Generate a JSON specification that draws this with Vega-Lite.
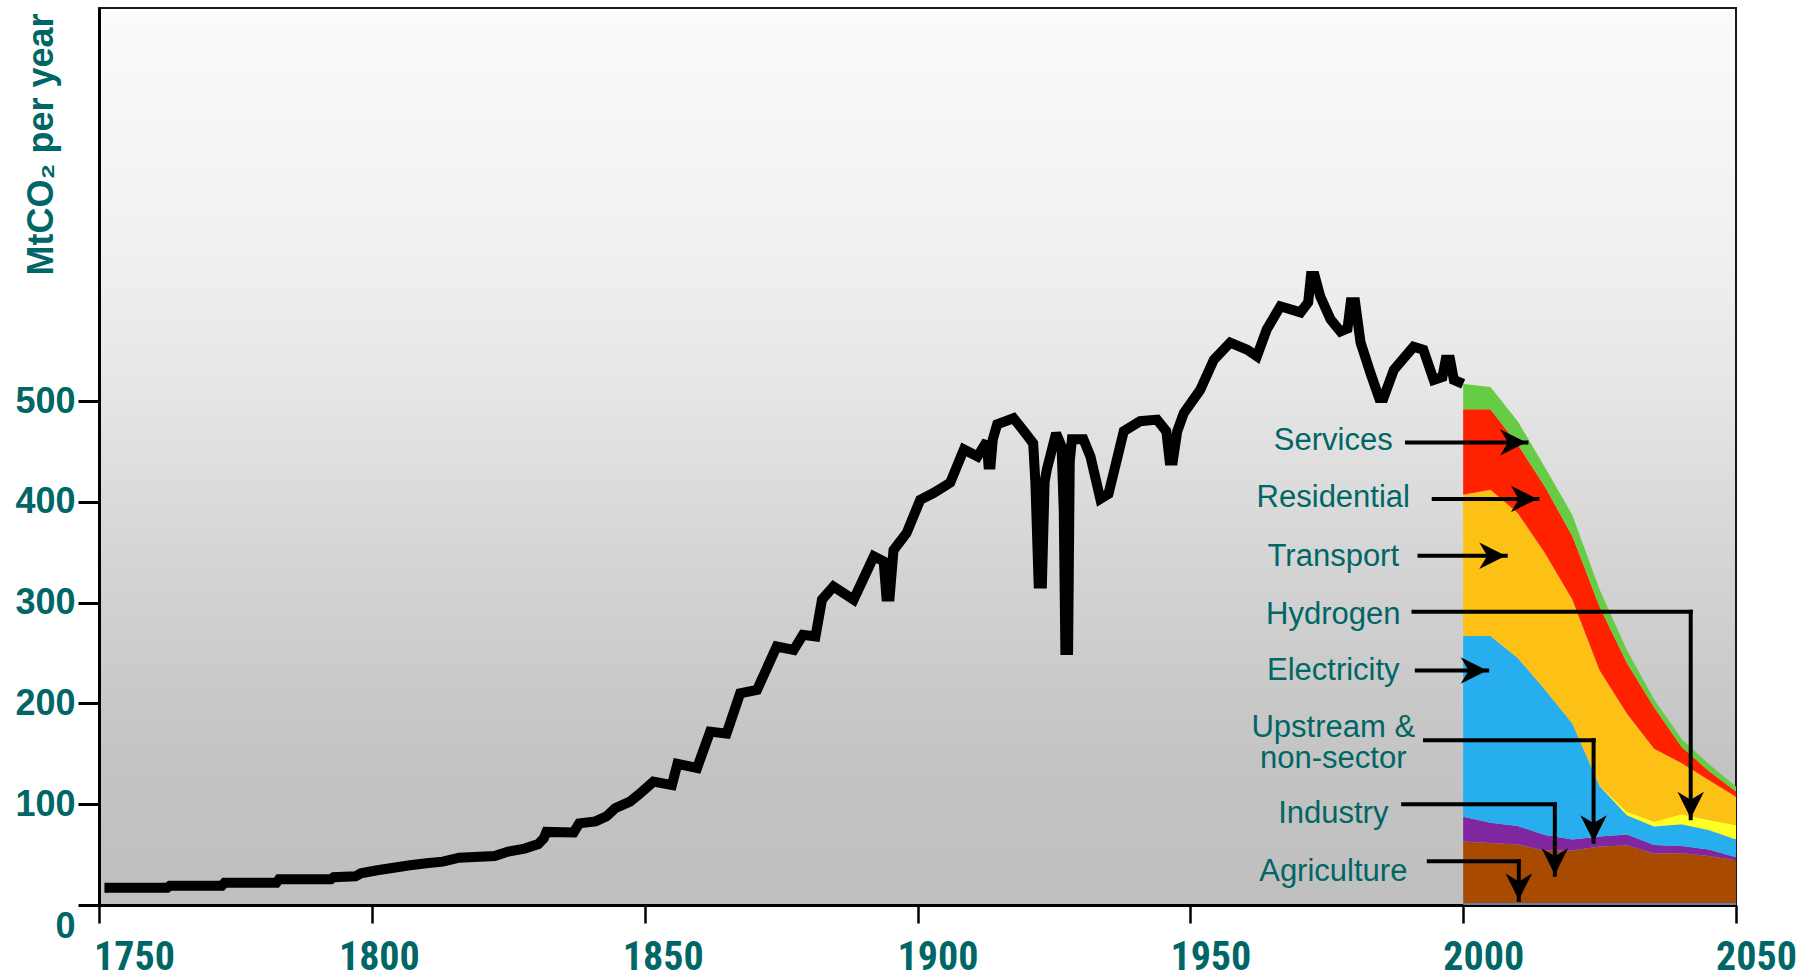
{
  "$schema": "https://vega.github.io/schema/vega-lite/v6.json",
  "width": 1637,
  "height": 897,
  "autosize": "none",
  "padding": {"left": 99, "top": 8, "right": 73, "bottom": 74},
  "background": "white",
  "view": {
    "stroke": "#1a1a1a",
    "strokeWidth": 2,
    "fill": {
      "gradient": "linear", "x1": 0, "y1": 0, "x2": 0, "y2": 1,
      "stops": [
        {"offset": 0, "color": "#fbfbfb"},
        {"offset": 0.27, "color": "#f0f0f0"},
        {"offset": 0.41, "color": "#e7e7e7"},
        {"offset": 0.6, "color": "#d6d6d6"},
        {"offset": 0.72, "color": "#cccccc"},
        {"offset": 0.85, "color": "#c3c3c3"},
        {"offset": 1, "color": "#bfbfbf"}
      ]
    }
  },
  "datasets": {
    "hist": [
      {"year": 1751, "value": 17}, {"year": 1762.5, "value": 17}, {"year": 1763, "value": 19}, {"year": 1772.5, "value": 19},
      {"year": 1773, "value": 22}, {"year": 1782.5, "value": 22}, {"year": 1783, "value": 25.5}, {"year": 1792.5, "value": 25.5},
      {"year": 1793, "value": 27.5}, {"year": 1797, "value": 28.5}, {"year": 1798, "value": 31.5}, {"year": 1801, "value": 34.5},
      {"year": 1804, "value": 37}, {"year": 1807, "value": 39.5}, {"year": 1810, "value": 41.5}, {"year": 1813, "value": 43},
      {"year": 1816, "value": 47}, {"year": 1822.5, "value": 48.5}, {"year": 1825, "value": 53}, {"year": 1828, "value": 56},
      {"year": 1830.5, "value": 60.5}, {"year": 1831.5, "value": 66}, {"year": 1832, "value": 72.5}, {"year": 1837, "value": 72},
      {"year": 1838, "value": 81}, {"year": 1841, "value": 83}, {"year": 1843, "value": 88}, {"year": 1844.6, "value": 96},
      {"year": 1847.3, "value": 102.6}, {"year": 1849, "value": 110}, {"year": 1851.6, "value": 122.4}, {"year": 1855, "value": 119},
      {"year": 1856, "value": 140}, {"year": 1859.6, "value": 136}, {"year": 1862, "value": 172}, {"year": 1865, "value": 170},
      {"year": 1867.5, "value": 210}, {"year": 1870.6, "value": 213.5}, {"year": 1874.2, "value": 256.5}, {"year": 1877.3, "value": 253},
      {"year": 1879, "value": 268}, {"year": 1881.3, "value": 266.4}, {"year": 1882.5, "value": 303}, {"year": 1884.6, "value": 316},
      {"year": 1888.3, "value": 303}, {"year": 1892, "value": 346}, {"year": 1893.8, "value": 341}, {"year": 1894.3, "value": 306},
      {"year": 1894.9, "value": 306}, {"year": 1895.6, "value": 352}, {"year": 1898, "value": 369}, {"year": 1900.5, "value": 402},
      {"year": 1903, "value": 409}, {"year": 1906, "value": 419}, {"year": 1908.5, "value": 452}, {"year": 1911, "value": 445},
      {"year": 1912.7, "value": 460}, {"year": 1913.0, "value": 437}, {"year": 1913.4, "value": 437}, {"year": 1913.8, "value": 462},
      {"year": 1914.6, "value": 477}, {"year": 1917.6, "value": 483}, {"year": 1919.8, "value": 468}, {"year": 1921.2, "value": 458},
      {"year": 1921.6, "value": 420}, {"year": 1922.2, "value": 319}, {"year": 1922.8, "value": 319}, {"year": 1923.3, "value": 420},
      {"year": 1923.7, "value": 432}, {"year": 1925.4, "value": 468}, {"year": 1926.4, "value": 455}, {"year": 1926.8, "value": 392},
      {"year": 1927.1, "value": 253}, {"year": 1927.6, "value": 253}, {"year": 1927.9, "value": 440}, {"year": 1928.3, "value": 462},
      {"year": 1930.4, "value": 462}, {"year": 1931.7, "value": 445}, {"year": 1933.5, "value": 403}, {"year": 1935, "value": 408},
      {"year": 1936, "value": 430}, {"year": 1937.8, "value": 470}, {"year": 1940.8, "value": 480}, {"year": 1943.9, "value": 481.6},
      {"year": 1945.6, "value": 470}, {"year": 1946.2, "value": 441}, {"year": 1946.8, "value": 441}, {"year": 1947.6, "value": 470},
      {"year": 1948.8, "value": 488}, {"year": 1951.8, "value": 511}, {"year": 1954.3, "value": 541}, {"year": 1957.3, "value": 558},
      {"year": 1960.4, "value": 551}, {"year": 1962.2, "value": 544.5}, {"year": 1964, "value": 571}, {"year": 1966.5, "value": 594},
      {"year": 1970.2, "value": 588}, {"year": 1971.6, "value": 598}, {"year": 1972.1, "value": 624}, {"year": 1972.8, "value": 624},
      {"year": 1973.8, "value": 604}, {"year": 1975.7, "value": 581}, {"year": 1977.5, "value": 569}, {"year": 1978.8, "value": 572},
      {"year": 1979.4, "value": 598}, {"year": 1980.2, "value": 598}, {"year": 1981.2, "value": 558}, {"year": 1983, "value": 528},
      {"year": 1984.6, "value": 503}, {"year": 1985.4, "value": 503}, {"year": 1987.3, "value": 531}, {"year": 1990.9, "value": 554},
      {"year": 1992.7, "value": 551}, {"year": 1994.6, "value": 521}, {"year": 1996.2, "value": 524}, {"year": 1996.8, "value": 541},
      {"year": 1997.6, "value": 541}, {"year": 1998.3, "value": 521}, {"year": 2000, "value": 517}
    ],
    "stack": [
      {"year": 2000, "series": "Agriculture", "k": 1, "value": 2},
      {"year": 2000, "series": "Industry", "k": 2, "value": 61},
      {"year": 2000, "series": "Upstream & non-sector", "k": 3, "value": 24.5},
      {"year": 2000, "series": "Electricity", "k": 4, "value": 179.5},
      {"year": 2000, "series": "Hydrogen", "k": 5, "value": 0},
      {"year": 2000, "series": "Transport", "k": 6, "value": 140},
      {"year": 2000, "series": "Residential", "k": 7, "value": 85},
      {"year": 2000, "series": "Services", "k": 8, "value": 25},
      {"year": 2005, "series": "Agriculture", "k": 1, "value": 2},
      {"year": 2005, "series": "Industry", "k": 2, "value": 59.5},
      {"year": 2005, "series": "Upstream & non-sector", "k": 3, "value": 20},
      {"year": 2005, "series": "Electricity", "k": 4, "value": 185.5},
      {"year": 2005, "series": "Hydrogen", "k": 5, "value": 0},
      {"year": 2005, "series": "Transport", "k": 6, "value": 145},
      {"year": 2005, "series": "Residential", "k": 7, "value": 80},
      {"year": 2005, "series": "Services", "k": 8, "value": 22},
      {"year": 2010, "series": "Agriculture", "k": 1, "value": 2},
      {"year": 2010, "series": "Industry", "k": 2, "value": 58},
      {"year": 2010, "series": "Upstream & non-sector", "k": 3, "value": 18.5},
      {"year": 2010, "series": "Electricity", "k": 4, "value": 166.5},
      {"year": 2010, "series": "Hydrogen", "k": 5, "value": 0},
      {"year": 2010, "series": "Transport", "k": 6, "value": 144},
      {"year": 2010, "series": "Residential", "k": 7, "value": 68},
      {"year": 2010, "series": "Services", "k": 8, "value": 23},
      {"year": 2015, "series": "Agriculture", "k": 1, "value": 2},
      {"year": 2015, "series": "Industry", "k": 2, "value": 52},
      {"year": 2015, "series": "Upstream & non-sector", "k": 3, "value": 15.5},
      {"year": 2015, "series": "Electricity", "k": 4, "value": 144},
      {"year": 2015, "series": "Hydrogen", "k": 5, "value": 0},
      {"year": 2015, "series": "Transport", "k": 6, "value": 135.5},
      {"year": 2015, "series": "Residential", "k": 7, "value": 66},
      {"year": 2015, "series": "Services", "k": 8, "value": 19},
      {"year": 2020, "series": "Agriculture", "k": 1, "value": 2},
      {"year": 2020, "series": "Industry", "k": 2, "value": 52},
      {"year": 2020, "series": "Upstream & non-sector", "k": 3, "value": 11},
      {"year": 2020, "series": "Electricity", "k": 4, "value": 115},
      {"year": 2020, "series": "Hydrogen", "k": 5, "value": 0},
      {"year": 2020, "series": "Transport", "k": 6, "value": 123},
      {"year": 2020, "series": "Residential", "k": 7, "value": 63},
      {"year": 2020, "series": "Services", "k": 8, "value": 21},
      {"year": 2025, "series": "Agriculture", "k": 1, "value": 2},
      {"year": 2025, "series": "Industry", "k": 2, "value": 56},
      {"year": 2025, "series": "Upstream & non-sector", "k": 3, "value": 10},
      {"year": 2025, "series": "Electricity", "k": 4, "value": 50},
      {"year": 2025, "series": "Hydrogen", "k": 5, "value": 0.5},
      {"year": 2025, "series": "Transport", "k": 6, "value": 114.5},
      {"year": 2025, "series": "Residential", "k": 7, "value": 63},
      {"year": 2025, "series": "Services", "k": 8, "value": 17},
      {"year": 2030, "series": "Agriculture", "k": 1, "value": 2},
      {"year": 2030, "series": "Industry", "k": 2, "value": 57},
      {"year": 2030, "series": "Upstream & non-sector", "k": 3, "value": 11},
      {"year": 2030, "series": "Electricity", "k": 4, "value": 19},
      {"year": 2030, "series": "Hydrogen", "k": 5, "value": 3.5},
      {"year": 2030, "series": "Transport", "k": 6, "value": 97.5},
      {"year": 2030, "series": "Residential", "k": 7, "value": 50},
      {"year": 2030, "series": "Services", "k": 8, "value": 13},
      {"year": 2035, "series": "Agriculture", "k": 1, "value": 2},
      {"year": 2035, "series": "Industry", "k": 2, "value": 49},
      {"year": 2035, "series": "Upstream & non-sector", "k": 3, "value": 8.6},
      {"year": 2035, "series": "Electricity", "k": 4, "value": 18.4},
      {"year": 2035, "series": "Hydrogen", "k": 5, "value": 4.7},
      {"year": 2035, "series": "Transport", "k": 6, "value": 72.3},
      {"year": 2035, "series": "Residential", "k": 7, "value": 41},
      {"year": 2035, "series": "Services", "k": 8, "value": 8},
      {"year": 2040, "series": "Agriculture", "k": 1, "value": 2},
      {"year": 2040, "series": "Industry", "k": 2, "value": 49.3},
      {"year": 2040, "series": "Upstream & non-sector", "k": 3, "value": 7.2},
      {"year": 2040, "series": "Electricity", "k": 4, "value": 21.5},
      {"year": 2040, "series": "Hydrogen", "k": 5, "value": 10},
      {"year": 2040, "series": "Transport", "k": 6, "value": 51},
      {"year": 2040, "series": "Residential", "k": 7, "value": 16},
      {"year": 2040, "series": "Services", "k": 8, "value": 8},
      {"year": 2045, "series": "Agriculture", "k": 1, "value": 2},
      {"year": 2045, "series": "Industry", "k": 2, "value": 46.5},
      {"year": 2045, "series": "Upstream & non-sector", "k": 3, "value": 6.5},
      {"year": 2045, "series": "Electricity", "k": 4, "value": 19.5},
      {"year": 2045, "series": "Hydrogen", "k": 5, "value": 9.9},
      {"year": 2045, "series": "Transport", "k": 6, "value": 39.6},
      {"year": 2045, "series": "Residential", "k": 7, "value": 9},
      {"year": 2045, "series": "Services", "k": 8, "value": 7},
      {"year": 2050, "series": "Agriculture", "k": 1, "value": 2},
      {"year": 2050, "series": "Industry", "k": 2, "value": 42.5},
      {"year": 2050, "series": "Upstream & non-sector", "k": 3, "value": 3},
      {"year": 2050, "series": "Electricity", "k": 4, "value": 17.5},
      {"year": 2050, "series": "Hydrogen", "k": 5, "value": 14.4},
      {"year": 2050, "series": "Transport", "k": 6, "value": 28.1},
      {"year": 2050, "series": "Residential", "k": 7, "value": 5},
      {"year": 2050, "series": "Services", "k": 8, "value": 5}
    ],
    "arrows": [
      {"name": "Services", "xs": 1989.7, "xt": 2011.6, "ys": 459, "yt": 459},
      {"name": "Residential", "xs": 1994.6, "xt": 2013.6, "ys": 402.9, "yt": 402.9},
      {"name": "Transport", "xs": 1992, "xt": 2007.8, "ys": 346.6, "yt": 346.6},
      {"name": "Hydrogen", "xs": 1990.9, "xt": 2041.7, "ys": 291, "yt": 86},
      {"name": "Electricity", "xs": 1991.5, "xt": 2004.4, "ys": 232.7, "yt": 232.7},
      {"name": "Upstream & non-sector", "xs": 1993, "xt": 2023.9, "ys": 163.5, "yt": 62.9},
      {"name": "Industry", "xs": 1989, "xt": 2016.8, "ys": 100, "yt": 30},
      {"name": "Agriculture", "xs": 1993.7, "xt": 2010.2, "ys": 43.4, "yt": 5}
    ],
    "labels": [
      {"label": "Services", "tx": 1976.2, "ty": 460.8},
      {"label": "Residential", "tx": 1976.2, "ty": 403.7},
      {"label": "Transport", "tx": 1976.2, "ty": 345.6},
      {"label": "Hydrogen", "tx": 1976.2, "ty": 288},
      {"label": "Electricity", "tx": 1976.2, "ty": 231.9},
      {"label": "Upstream &\nnon-sector", "tx": 1976.2, "ty": 175.3},
      {"label": "Industry", "tx": 1976.2, "ty": 89.9},
      {"label": "Agriculture", "tx": 1976.2, "ty": 32.8}
    ]
  },
  "layer": [
    {
      "data": {"name": "hist"},
      "mark": {"type": "line", "color": "black", "strokeWidth": 10, "strokeJoin": "miter", "strokeMiterLimit": 2, "strokeCap": "butt"},
      "encoding": {
        "x": {
          "field": "year", "type": "quantitative", "title": null,
          "scale": {"domain": [1750, 2050], "nice": false, "zero": false},
          "axis": {
            "values": [1750, 1800, 1850, 1900, 1950, 2000, 2050],
            "format": "d", "title": null,
            "labelFont": "Liberation Sans Narrow, Roboto Condensed, Liberation Sans, Arial, sans-serif", "labelFontSize": 40, "labelFontWeight": "bold", "labelColor": "#006666",
            "labelPadding": 14,
            "labelOffset": {"condition": [{"test": "datum.value === 1750", "value": 35}, {"test": "datum.value === 1800", "value": 7}, {"test": "datum.value === 1850", "value": 18}], "value": 20},
            "tickSize": 18, "tickWidth": 2.5, "tickColor": "black",
            "domainColor": "black", "domainWidth": 3, "grid": false,
            "labelOverlap": false, "labelFlush": false, "labelBound": false
          }
        },
        "y": {
          "field": "value", "type": "quantitative", "title": "MtCO₂ per year",
          "scale": {"domain": [0, 890], "nice": false, "zero": true},
          "axis": {
            "values": [0, 100, 200, 300, 400, 500],
            "title": "MtCO₂ per year",
            "titleFont": "Liberation Sans", "titleFontSize": 36, "titleFontWeight": "bold", "titleColor": "#006666",
            "titleAnchor": "end", "titleAngle": -90, "titleAlign": "right", "titleBaseline": "alphabetic",
            "titleX": -47, "titleY": 5,
            "labelFont": "Liberation Sans", "labelFontSize": 36, "labelFontWeight": "bold", "labelColor": "#006666",
            "labelPadding": 3,
            "labelOffset": {"condition": {"test": "datum.value === 0", "value": 21}, "value": 0},
            "tickSize": 21, "tickWidth": 3, "tickColor": "black",
            "domainColor": "black", "domainWidth": 3, "grid": false,
            "labelOverlap": false, "labelFlush": false, "labelBound": false
          }
        }
      }
    },
    {
      "data": {"name": "stack"},
      "mark": {"type": "area", "interpolate": "linear", "opacity": 1},
      "encoding": {
        "x": {"field": "year", "type": "quantitative", "title": null, "scale": {"domain": [1750, 2050], "nice": false, "zero": false}},
        "y": {"field": "value", "type": "quantitative", "title": "MtCO₂ per year", "stack": "zero", "scale": {"domain": [0, 890], "nice": false, "zero": true}},
        "order": {"field": "k", "type": "quantitative"},
        "color": {
          "field": "series", "type": "nominal", "legend": null,
          "scale": {
            "domain": ["Agriculture", "Industry", "Upstream & non-sector", "Electricity", "Hydrogen", "Transport", "Residential", "Services"],
            "range": ["#5E82A8", "#A84B00", "#8026A0", "#27AEEF", "#FFFF22", "#FCC114", "#FF2200", "#66CC44"]
          }
        }
      }
    },
    {
      "data": {"name": "arrows"},
      "mark": {"type": "rule", "color": "black", "strokeWidth": 4, "strokeCap": "square"},
      "encoding": {
        "x": {"field": "xs", "type": "quantitative", "title": null, "scale": {"domain": [1750, 2050], "nice": false, "zero": false}},
        "x2": {"field": "xt"},
        "y": {"field": "ys", "type": "quantitative", "title": "MtCO₂ per year", "scale": {"domain": [0, 890], "nice": false, "zero": true}}
      }
    },
    {
      "data": {"name": "arrows"},
      "transform": [{"filter": "datum.yt < datum.ys"}],
      "mark": {"type": "rule", "color": "black", "strokeWidth": 4, "strokeCap": "square"},
      "encoding": {
        "x": {"field": "xt", "type": "quantitative", "title": null, "scale": {"domain": [1750, 2050], "nice": false, "zero": false}},
        "y": {"field": "ys", "type": "quantitative", "title": "MtCO₂ per year", "scale": {"domain": [0, 890], "nice": false, "zero": true}},
        "y2": {"field": "yt"}
      }
    },
    {
      "data": {"name": "arrows"},
      "mark": {"type": "point", "shape": "M0,0L-2,-1L-1.4,0L-2,1Z", "filled": true, "color": "black", "opacity": 1, "size": 700, "strokeWidth": 0},
      "encoding": {
        "x": {"field": "xt", "type": "quantitative", "title": null, "scale": {"domain": [1750, 2050], "nice": false, "zero": false}},
        "y": {"field": "yt", "type": "quantitative", "title": "MtCO₂ per year", "scale": {"domain": [0, 890], "nice": false, "zero": true}},
        "angle": {"condition": {"test": "datum.yt < datum.ys", "value": 90}, "value": 0}
      }
    },
    {
      "data": {"name": "labels"},
      "mark": {"type": "text", "font": "Liberation Sans", "fontSize": 31, "color": "#006666", "align": "center", "baseline": "middle", "lineBreak": "\n", "lineHeight": 31},
      "encoding": {
        "x": {"field": "tx", "type": "quantitative", "title": null, "scale": {"domain": [1750, 2050], "nice": false, "zero": false}},
        "y": {"field": "ty", "type": "quantitative", "title": "MtCO₂ per year", "scale": {"domain": [0, 890], "nice": false, "zero": true}},
        "text": {"field": "label"}
      }
    }
  ]
}
